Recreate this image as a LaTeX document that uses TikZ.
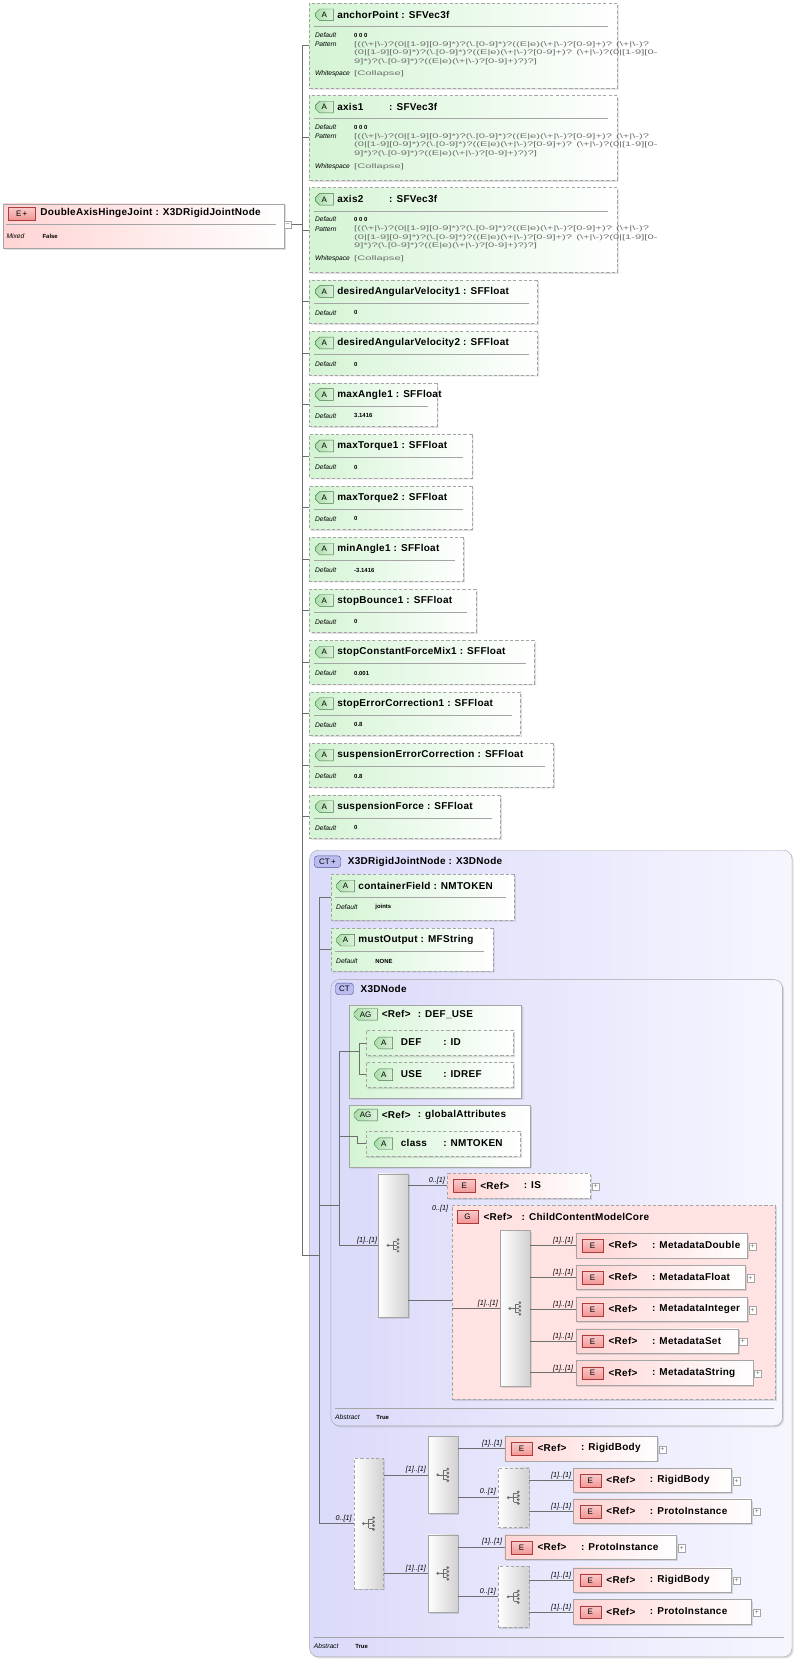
\documentclass[tikz,border=0pt]{standalone}
\usepackage{fontspec}
\setmainfont{Liberation Sans}
\newfontfamily\ttlf{Liberation Sans}[LetterSpace=3.0]
\usetikzlibrary{shapes.misc,shadows}
\definecolor{attrG}{RGB}{212,244,212}
\definecolor{iconG}{RGB}{170,222,170}
\definecolor{iconGd}{RGB}{70,120,70}
\definecolor{elP}{RGB}{255,212,212}
\definecolor{grpP}{RGB}{255,226,226}
\definecolor{iconP}{RGB}{242,150,150}
\definecolor{iconPd}{RGB}{170,60,60}
\definecolor{ctB}{RGB}{218,218,250}
\definecolor{ctR}{RGB}{246,246,255}
\definecolor{iconB}{RGB}{188,188,240}
\definecolor{iconBd}{RGB}{80,80,150}
\definecolor{bord}{RGB}{165,165,165}
\definecolor{ln}{RGB}{110,110,110}
\newcommand\bs{\textbackslash}
\newcommand\patline[1]{\scalebox{1.7}[1]{#1}}
\tikzset{
  shd/.style={drop shadow={opacity=0.25,shadow xshift=1.5pt,shadow yshift=-1.5pt}},
  attr/.style={chamfered rectangle, chamfered rectangle corners={north west,south west},
    chamfered rectangle xsep=5pt, chamfered rectangle ysep=5pt, draw=bord,
    dash pattern=on 3pt off 2pt, left color=attrG, right color=white, inner sep=0pt, shd},
  ag/.style={attr, solid},
  elem/.style={rectangle, draw=bord, left color=elP, right color=white, inner sep=0pt, shd},
  ct/.style={rectangle, rounded corners=8pt, draw=bord, left color=ctB, right color=ctR, inner sep=0pt, shd},
  grp/.style={rectangle, draw=bord, dash pattern=on 3pt off 2pt, fill=grpP, inner sep=0pt, shd},
  seq/.style={rectangle, draw=bord, left color=white, right color=black!18, inner sep=0pt, shd},
  dsh/.style={dash pattern=on 3pt off 2pt},
  aicon/.style={chamfered rectangle, chamfered rectangle corners={north west,south west},
    chamfered rectangle xsep=2pt, chamfered rectangle ysep=2pt,
    draw=iconGd, left color=iconG, right color=iconG!40, minimum width=17pt, minimum height=11pt,
    inner sep=0pt, font=\fontsize{7.5}{7.5}\selectfont},
  eicon/.style={rectangle, draw=iconPd, top color=iconP!50, bottom color=iconP, minimum width=20pt,
    minimum height=12pt, inner sep=0pt, font=\fontsize{7.5}{7.5}\selectfont},
  bicon/.style={rectangle, rounded corners=3pt, draw=iconBd, fill=iconB, minimum width=17pt,
    minimum height=11pt, inner sep=0pt, font=\fontsize{7.5}{7.5}\selectfont},
  ttl/.style={anchor=west, inner sep=0pt, font=\ttlf\bfseries\fontsize{9.4}{10}\selectfont},
  lbl/.style={anchor=west, inner sep=0pt, font=\itshape\fontsize{6.3}{7}\selectfont},
  val/.style={anchor=west, inner sep=0pt, font=\bfseries\fontsize{5.6}{6}\selectfont},
  pat/.style={anchor=west, inner sep=0pt, text=ln, font=\fontsize{6.2}{7}\selectfont},
  mult/.style={anchor=south east, inner sep=1pt, font=\itshape\fontsize{6.8}{7}\selectfont},
  plus/.style={rectangle, draw=bord, fill=white, minimum size=7pt, inner sep=0pt, text=ln,
    font=\fontsize{6.5}{6.5}\selectfont},
  conn/.style={draw=ln, line width=0.6pt},
  sepl/.style={draw=bord, line width=0.6pt},
}
% attribute with default: name,x,top,width,height,title,default
\newcommand\attr[7]{%
  \node[attr, minimum width=#4, minimum height=#5, anchor=west] (#1) at (#2,{#3+#5/2}) {};
  \node[aicon] at (#2+14,#3+11) {A};
  \node[ttl] at (#2+26,#3+11) {#6};
  \draw[sepl] (#2+4,#3+22) -- (#2+#4-8,#3+22);
  \node[lbl] at (#2+5,#3+31) {Default};
  \node[val] at (#2+42,#3+31) {#7};}
% big vec attribute: name,x,top,title1,title2
\newcommand\vattr[5]{%
  \node[attr, minimum width=290, minimum height=80, anchor=west] (#1) at (#2,{#3+40}) {};
  \node[aicon] at (#2+14,#3+11) {A};
  \node[ttl] at (#2+26,#3+11) {#4};
  \node[ttl] at (#2+75,#3+11) {#5};
  \draw[sepl] (#2+4,#3+22) -- (#2+282,#3+22);
  \node[lbl] at (#2+5,#3+30) {Default};
  \node[val] at (#2+42,#3+30) {0 0 0};
  \node[lbl] at (#2+5,#3+39) {Pattern};
  \node[pat] at (#2+42,#3+39) {\patline{[((\bs+|\bs-)?(0|[1-9][0-9]*)?(\bs.[0-9]*)?((E|e)(\bs+|\bs-)?[0-9]+)? (\bs+|\bs-)?}};
  \node[pat] at (#2+42,#3+47) {\patline{(0|[1-9][0-9]*)?(\bs.[0-9]*)?((E|e)(\bs+|\bs-)?[0-9]+)? (\bs+|\bs-)?(0|[1-9][0-}};
  \node[pat] at (#2+42,#3+55) {\patline{9]*)?(\bs.[0-9]*)?((E|e)(\bs+|\bs-)?[0-9]+)?)?]}};
  \node[lbl] at (#2+5,#3+67) {Whitespace};
  \node[pat] at (#2+42,#3+67) {\patline{[Collapse]}};}
% title-only attribute: name,x,top,width,name,type
\newcommand\tattr[6]{%
  \node[attr, minimum width=#4, minimum height=24, anchor=west] (#1) at (#2,{#3+12}) {};
  \node[aicon] at (#2+17,#3+12) {A};
  \node[ttl] at (#2+33,#3+11.5) {#5};
  \node[ttl] at (#2+73,#3+11.5) {#6};}
% element: name,x,top,right,type,extra style
\newcommand\elem[6]{%
  \node[elem,#6, minimum width={#4-#2}, minimum height=23, anchor=north west] (#1) at (#2,#3) {};
  \node[eicon] at (#2+16,#3+12) {E};
  \node[ttl] at (#2+31,#3+11.5) {<Ref>};
  \node[ttl] at (#2+72,#3+11.5) {: #5};
  \node[plus] at (#4+5,#3+12.5) {+};}
\newcommand\seqicon[2]{%
  \fill[ln] (#1-5,#2) circle (1.4pt);
  \draw[ln, line width=0.7pt] (#1-5,#2) -- (#1,#2) (#1,#2-4) -- (#1,#2+4)
    (#1,#2-4) -- (#1+4,#2-4) (#1,#2) -- (#1+4,#2) (#1,#2+4) -- (#1+4,#2+4);
  \foreach \d in {-5.5,-1.8,1.8,5.5} \fill[ln] (#1+4.5,#2+\d) circle (1.4pt);}
\begin{document}
\begin{tikzpicture}[x=1pt,y=-1pt]
\useasboundingbox (0,0) rectangle (751,1569);
\fill[white] (0,0) rectangle (751,1569);
% root
\node[elem, minimum width=265, minimum height=42, anchor=north west] (root) at (3,192) {};
\node[eicon, minimum width=25pt] at (20.5,201.5) {E\,+};
\node[ttl] at (38,201) {DoubleAxisHingeJoint : X3DRigidJointNode};
\draw[sepl] (6,212) -- (260,212);
\node[lbl] at (6,223) {Mixed};
\node[val] at (40,223) {False};
\node[plus] (rm) at (271.5,212) {--};
\coordinate (T) at (285,212);
\draw[conn] (rm) -- (T);
% attributes
\vattr{ap}{292}{3}{anchorPoint : SFVec3f}{}
\vattr{ax1}{292}{90}{axis1}{: SFVec3f}
\vattr{ax2}{292}{177}{axis2}{: SFVec3f}
\attr{dav1}{292}{264}{215}{41}{desiredAngularVelocity1 : SFFloat}{0}
\attr{dav2}{292}{312.6}{215}{41}{desiredAngularVelocity2 : SFFloat}{0}
\attr{ma1}{292}{361.2}{120}{41}{maxAngle1 : SFFloat}{3.1416}
\attr{mt1}{292}{409.8}{153}{41}{maxTorque1 : SFFloat}{0}
\attr{mt2}{292}{458.4}{153}{41}{maxTorque2 : SFFloat}{0}
\attr{mi1}{292}{507}{145}{41}{minAngle1 : SFFloat}{-3.1416}
\attr{sb1}{292}{555.6}{157}{41}{stopBounce1 : SFFloat}{0}
\attr{scf}{292}{604.2}{212}{41}{stopConstantForceMix1 : SFFloat}{0.001}
\attr{sec}{292}{652.8}{199}{41}{stopErrorCorrection1 : SFFloat}{0.8}
\attr{sue}{292}{701.4}{230}{41}{suspensionErrorCorrection : SFFloat}{0.8}
\attr{suf}{292}{750}{180}{41}{suspensionForce : SFFloat}{0}
\foreach \n in {ap,ax1,ax2,dav1,dav2,ma1,mt1,mt2,mi1,sb1,scf,sec,sue,suf} \draw[conn] (\n.west) -| (T);
% CT X3DRigidJointNode
\node[ct, minimum width=455, minimum height=761, anchor=north west] (ct) at (292,802) {};
\node[bicon, minimum width=25pt] at (309,813) {CT\,+};
\node[ttl] at (328,813) {X3DRigidJointNode : X3DNode};
\draw[sepl] (296,1545) -- (740,1545);
\node[lbl] at (296,1553) {Abstract};
\node[val] at (335,1553) {True};
\coordinate (U) at (301,1184);
\draw[conn] (U) -| (T);
\attr{cf}{312}{825}{173}{43}{containerField : NMTOKEN}{joints}
\attr{mo}{312}{876}{153}{40}{mustOutput : MFString}{NONE}
\draw[conn] (cf.west) -| (U);
\draw[conn] (mo.west) -| (U);
% X3DNode
\node[ct, minimum width=426, minimum height=421, anchor=north west] (xn) at (312,924) {};
\node[bicon] at (325,933) {CT};
\node[ttl] at (340,933) {X3DNode};
\draw[sepl] (316,1329) -- (730,1329);
\node[lbl] at (316,1337) {Abstract};
\node[val] at (355,1337) {True};
\coordinate (V) at (320,1137);
\draw[conn] (V) -| (U);
% AG DEF_USE
\node[ag, minimum width=163, minimum height=88, anchor=west] (ag1) at (329,992) {};
\node[aicon, minimum width=22pt] at (345,957) {AG};
\node[ttl] at (360,957) {<Ref>};
\node[ttl] at (394,957) {: DEF\_USE};
\tattr{def}{345}{972}{139}{DEF}{: ID}
\tattr{use}{345}{1002}{139}{USE}{: IDREF}
\coordinate (W) at (339,992);
\draw[conn] (ag1.west) -| (V);
\draw[conn] (ag1.west) -- (W);
\draw[conn] (def.west) -| (W);
\draw[conn] (use.west) -| (W);
% AG globalAttributes
\node[ag, minimum width=171, minimum height=58, anchor=west] (ag2) at (329,1072) {};
\node[aicon, minimum width=22pt] at (345,1052) {AG};
\node[ttl] at (360,1052) {<Ref>};
\node[ttl] at (394,1052) {: globalAttributes};
\tattr{cls}{345}{1067}{146}{class}{: NMTOKEN}
\draw[conn] (ag2.west) -| (V);
\draw[conn] (ag2.west) -- ++(8,0) |- (cls.west);
% sequence 1
\node[seq, minimum width=28, minimum height=135] (s1) at (371,1175) {};
\seqicon{371}{1175}
\draw[conn] (s1.west) -| (V);
\node[mult] at (357,1175) {[1]..[1]};
\elem{is}{422}{1107}{557}{IS}{dsh}
\draw[conn] (s1.east |- is.west) -- (is.west);
\node[mult] at (421,1118) {0..[1]};
% group
\node[grp, minimum width=305, minimum height=183, anchor=north west] (g) at (426,1137) {};
\node[eicon] at (441,1148) {G};
\node[ttl] at (456,1148) {<Ref>};
\node[ttl] at (492,1148) {: ChildContentModelCore};
\node[mult] at (424,1145) {0..[1]};
\coordinate (gin) at (426,1227);
\draw[conn] (s1.east |- gin) -- (gin);
\node[seq, minimum width=28, minimum height=147] (s2) at (486,1234.5) {};
\seqicon{486}{1234.5}
\draw[conn] (g.west |- s2.west) -- (s2.west);
\node[mult] at (471,1234) {[1]..[1]};
\elem{md}{543}{1163.5}{705}{MetadataDouble}{}
\elem{mf}{543}{1193.5}{703}{MetadataFloat}{}
\elem{mn}{543}{1223.5}{705}{MetadataInteger}{}
\elem{ms}{543}{1253.5}{696}{MetadataSet}{}
\elem{mg}{543}{1283.5}{710}{MetadataString}{}
\foreach \n in {md,mf,mn,ms,mg} {
  \draw[conn] (s2.east |- \n.west) -- (\n.west);
  \node[mult] at ([xshift=-1pt]\n.west) {[1]..[1]};
}
% bottom choice structure
\node[seq, dsh, minimum width=28, minimum height=123] (c0) at (348,1437.5) {};
\seqicon{348}{1437.5}
\draw[conn] (c0.west) -| (U);
\node[mult] at (333,1437) {0..[1]};
\node[seq, minimum width=28, minimum height=73] (sa) at (418,1391.5) {};
\seqicon{418}{1391.5}
\node[seq, minimum width=28, minimum height=73] (sb) at (418,1484.5) {};
\seqicon{418}{1484.5}
\draw[conn] (c0.east |- sa.west) -- (sa.west);
\draw[conn] (c0.east |- sb.west) -- (sb.west);
\node[mult] at (403,1391) {[1]..[1]};
\node[mult] at (403,1484) {[1]..[1]};
\elem{rb1}{476}{1355}{620}{RigidBody}{}
\node[seq, dsh, minimum width=29, minimum height=56] (ca) at (484.5,1413) {};
\seqicon{484.5}{1413}
\elem{rb2}{541}{1385}{690}{RigidBody}{}
\elem{pi2}{541}{1414}{709}{ProtoInstance}{}
\elem{pi1}{476}{1448}{638}{ProtoInstance}{}
\node[seq, dsh, minimum width=29, minimum height=57] (cb) at (484.5,1506.5) {};
\seqicon{484.5}{1506.5}
\elem{rb3}{541}{1479}{690}{RigidBody}{}
\elem{pi3}{541}{1509}{709}{ProtoInstance}{}
\draw[conn] (sa.east |- rb1.west) -- (rb1.west);
\node[mult] at (475,1366) {[1]..[1]};
\draw[conn] (sa.east |- ca.west) -- (ca.west);
\node[mult] at (469,1412) {0..[1]};
\draw[conn] (sb.east |- pi1.west) -- (pi1.west);
\node[mult] at (475,1459) {[1]..[1]};
\draw[conn] (sb.east |- cb.west) -- (cb.west);
\node[mult] at (469,1506) {0..[1]};
\foreach \a/\n in {ca/rb2,ca/pi2,cb/rb3,cb/pi3} {
  \draw[conn] (\a.east |- \n.west) -- (\n.west);
  \node[mult] at ([xshift=-1pt]\n.west) {[1]..[1]};
}
\end{tikzpicture}
\end{document}
